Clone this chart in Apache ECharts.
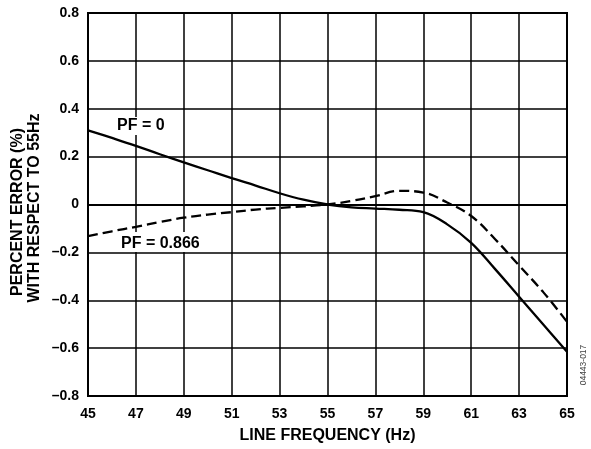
<!DOCTYPE html>
<html><head><meta charset="utf-8">
<script src="https://cdn.jsdelivr.net/npm/echarts@6/dist/echarts.min.js"></script>
<style>html,body{margin:0;padding:0;background:#fff}#c{width:591px;height:449px}</style>
</head><body><div id="c"></div>
<script>
const freq = [45,46,47,48,49,50,51,52,53,54,55,56,57,58,59,60,61,62,63,64,65];
const pf0 = [0.31,0.278,0.245,0.21,0.176,0.143,0.11,0.079,0.047,0.02,0,-0.012,-0.017,-0.022,-0.032,-0.083,-0.16,-0.27,-0.385,-0.5,-0.615];
const pf0866 = [-0.132,-0.112,-0.093,-0.073,-0.055,-0.042,-0.032,-0.021,-0.014,-0.008,0,0.015,0.035,0.057,0.05,0.008,-0.048,-0.145,-0.255,-0.365,-0.49];
const xTicks = [45,47,49,51,53,55,57,59,61,63,65];
const yTicks = [-0.8,-0.6,-0.4,-0.2,0,0.2,0.4,0.6,0.8];
const labels = {pf0:'PF = 0', pf0866:'PF = 0.866'};
const xName = 'LINE FREQUENCY (Hz)';
const yName = ['PERCENT ERROR (%)','WITH RESPECT TO 55Hz'];
const figId = '04443-017';

const font = 'Liberation Sans, Arial, sans-serif';
const chart = echarts.init(document.getElementById('c'), null, {renderer:'canvas'});
const fmtY = v => { const r = Math.round(v*10)/10; if (r === 0) return '0'; return (r<0?'\u2013':'') + Math.abs(r).toFixed(1); };
chart.setOption({
  animation:false,
  grid:{left:88,right:24,top:13,bottom:52,show:true,borderColor:'#000',borderWidth:2,backgroundColor:'transparent'},
  xAxis:{type:'value',min:45,max:65,interval:2,
    name:xName,nameLocation:'middle',nameGap:32,
    nameTextStyle:{fontFamily:font,fontWeight:'bold',fontSize:16,color:'#000'},
    axisLine:{show:true,lineStyle:{color:'#000',width:2}},axisTick:{show:false},
    axisLabel:{margin:11,fontFamily:font,fontWeight:'bold',fontSize:14,color:'#000',
      formatter:v=>xTicks.includes(v)?String(v):''},
    splitLine:{show:true,lineStyle:{color:'#000',width:1.5}}},
  yAxis:{type:'value',min:-0.8,max:0.8,interval:0.2,
    axisLine:{show:true,lineStyle:{color:'#000',width:2}},axisTick:{show:false},
    axisLabel:{margin:9,fontFamily:font,fontWeight:'bold',fontSize:14,color:'#000',
      formatter:v=>yTicks.some(t=>Math.abs(t-v)<1e-9)?fmtY(v):''},
    splitLine:{show:true,lineStyle:{color:'#000',width:1.5}}},
  series:[
    {type:'line',name:labels.pf0,data:freq.map((f,i)=>[f,pf0[i]]),smooth:0.4,showSymbol:false,
      lineStyle:{color:'#000',width:2.3,type:'solid'},z:5},
    {type:'line',name:labels.pf0866,data:freq.map((f,i)=>[f,pf0866[i]]),smooth:0.4,showSymbol:false,
      lineStyle:{color:'#000',width:2.3,type:[10,5]},z:5}
  ],
  graphic:[
    {type:'text',x:18,y:212,rotation:Math.PI/2,style:{text:yName[0],font:'bold 16px '+font,fill:'#000',align:'center',verticalAlign:'middle'}},
    {type:'text',x:35,y:208,rotation:Math.PI/2,style:{text:yName[1],font:'bold 16px '+font,fill:'#000',align:'center',verticalAlign:'middle'}},
    {type:'text',left:115,top:117,z:3,style:{text:labels.pf0,font:'bold 16px '+font,fill:'#000',backgroundColor:'#fff',padding:[1,2,1,2]}},
    {type:'text',left:117,top:232,z:3,style:{text:labels.pf0866,font:'bold 16px '+font,fill:'#000',backgroundColor:'#fff',padding:[4,4,0,4]}},
    {type:'text',x:583.5,y:365,rotation:Math.PI/2,style:{text:figId,font:'8.5px '+font,fill:'#444',align:'center',verticalAlign:'middle'}}
  ]
});
</script></body></html>
